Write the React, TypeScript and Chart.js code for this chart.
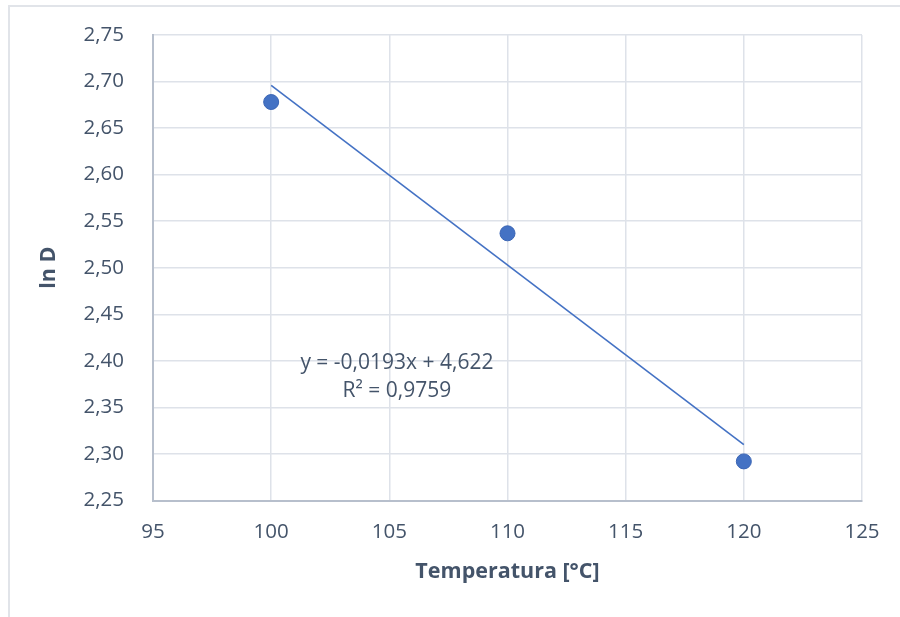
import React, { useEffect, useRef } from "react";
import { Chart, registerables } from "chart.js";

Chart.register(...registerables);

const temperatures = [100, 110, 120];
const lnD = [2.678, 2.537, 2.292];
const trendX = [100, 120];
const trendY = [2.696, 2.31];
const xTicks = [95, 100, 105, 110, 115, 120, 125];
const yTicks = [2.25, 2.3, 2.35, 2.4, 2.45, 2.5, 2.55, 2.6, 2.65, 2.7, 2.75];
const equationLines = ["y = -0,0193x + 4,622", "R² = 0,9759"];
const xTitle = "Temperatura [°C]";
const yTitle = "ln D";

const FONT = "'Open Sans', 'DejaVu Sans', sans-serif";
const TEXT = "#44546A";
const BLUE = "#4472C4";
const GRID = "#DEE2E9";
const AXIS = "#B7BFCC";

const decorPlugin = {
  id: "decor",
  beforeDraw(chart: any) {
    const ctx = chart.ctx;
    ctx.save();
    ctx.fillStyle = "#ffffff";
    ctx.fillRect(0, 0, chart.width, chart.height);
    ctx.strokeStyle = "#E1E4E9";
    ctx.lineWidth = 2;
    ctx.beginPath();
    ctx.moveTo(9, chart.height);
    ctx.lineTo(9, 6);
    ctx.lineTo(chart.width, 6);
    ctx.stroke();
    ctx.restore();
  },
  afterDatasetsDraw(chart: any) {
    const ctx = chart.ctx;
    const ca = chart.chartArea;
    ctx.save();
    ctx.font = `21px ${FONT}`;
    ctx.fillStyle = TEXT;
    ctx.textAlign = "center";
    ctx.textBaseline = "middle";
    const cx = ca.left + (ca.right - ca.left) * 0.344;
    const cy = ca.top + (ca.bottom - ca.top) * 0.705;
    equationLines.forEach((t, i) => ctx.fillText(t, cx, cy + i * 28));
    ctx.restore();
  },
};

export default function App() {
  const ref = useRef<HTMLCanvasElement>(null);
  useEffect(() => {
    document.body.style.margin = "0";
    const canvas = ref.current!;
    const chart = new Chart(canvas, {
      type: "scatter",
      data: {
        datasets: [
          {
            type: "line",
            label: "Trend",
            data: trendX.map((x, i) => ({ x, y: trendY[i] })),
            borderColor: BLUE,
            borderWidth: 1.6,
            pointRadius: 0,
            fill: false,
          } as any,
          {
            label: "ln D",
            data: temperatures.map((x, i) => ({ x, y: lnD[i] })),
            backgroundColor: BLUE,
            borderColor: "#3A65B5",
            borderWidth: 1,
            pointRadius: 7.5,
          },
        ],
      },
      options: {
        animation: false,
        responsive: false,
        maintainAspectRatio: false,
        layout: { padding: { top: 35, right: 38, left: 0, bottom: 0 } },
        plugins: { legend: { display: false }, tooltip: { enabled: false } },
        scales: {
          x: {
            type: "linear",
            min: 95,
            max: 125,
            afterBuildTicks: (s: any) => {
              s.ticks = xTicks.map((v) => ({ value: v }));
            },
            afterFit: (s: any) => {
              s.height = 116.5;
              s.paddingLeft = 0;
              s.paddingRight = 0;
            },
            ticks: {
              font: { family: FONT, size: 20.5 },
              color: TEXT,
              padding: 19,
              callback: (v: any) => String(v),
            },
            grid: { color: GRID, lineWidth: 1.5, drawTicks: false },
            border: { color: AXIS, width: 2 },
            title: {
              display: true,
              text: xTitle,
              color: TEXT,
              font: { family: FONT, size: 21.5, weight: "bold" },
              padding: { top: 0, bottom: 32 },
            },
          },
          y: {
            type: "linear",
            min: 2.25,
            max: 2.75,
            afterBuildTicks: (s: any) => {
              s.ticks = yTicks.map((v) => ({ value: v }));
            },
            afterFit: (s: any) => {
              s.width = 153;
              s.paddingTop = 0;
              s.paddingBottom = 0;
            },
            ticks: {
              font: { family: FONT, size: 20.5 },
              color: TEXT,
              padding: 29,
              callback: (v: any) => Number(v).toFixed(2).replace(".", ","),
            },
            grid: { color: GRID, lineWidth: 1.5, drawTicks: false },
            border: { color: AXIS, width: 2 },
            title: {
              display: true,
              text: yTitle,
              color: TEXT,
              font: { family: FONT, size: 21.5, weight: "bold" },
              padding: { top: 36, bottom: 0 },
            },
          },
        },
      },
      plugins: [decorPlugin],
    });
    return () => chart.destroy();
  }, []);
  return <canvas ref={ref} width={900} height={617} style={{ display: "block" }} />;
}
